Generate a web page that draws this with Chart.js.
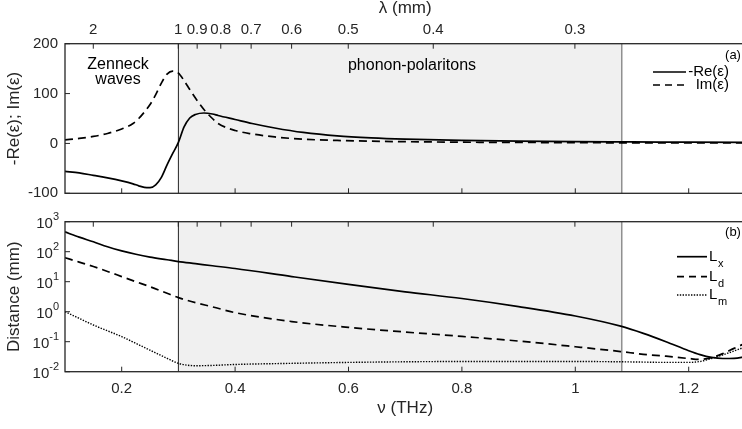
<!DOCTYPE html>
<html>
<head>
<meta charset="utf-8">
<script src="https://cdn.jsdelivr.net/npm/chart.js@4"></script>
<style>
  html, body { margin: 0; padding: 0; background: #fff; overflow: hidden; width: 742px; height: 429px; }
  .panel { position: absolute; left: 0; }
</style>
</head>
<body>
<canvas id="eps-graph" class="panel" style="top:0" width="750" height="215"></canvas>
<canvas id="dist-graph" class="panel" style="top:200px" width="750" height="229"></canvas>
<script>
// Dielectric function + propagation distances vs frequency

const FONT = '"Liberation Sans", Arial, sans-serif';
Chart.defaults.font.family = FONT;
Chart.defaults.color = '#262626';

const C_MM_THZ = 0.29979;        // lambda(mm) = c / nu(THz)
const zoneStart = 0.3;           // phonon-polariton band
const zoneEnd = 1.082;

const nuTicks = [0.2, 0.4, 0.6, 0.8, 1, 1.2];
const lambdaTicks = [2, 1, 0.9, 0.8, 0.7, 0.6, 0.5, 0.4, 0.3];
const epsTicks = [-100, 0, 100, 200];
const distExponents = [-2, -1, 0, 1, 2, 3];

// panel (a)
const nuTop = [0.1, 0.125, 0.15, 0.175, 0.2, 0.22, 0.23, 0.24, 0.25, 0.26, 0.27, 0.28, 0.29, 0.3, 0.31, 0.32, 0.33, 0.345, 0.36, 0.37, 0.4, 0.43, 0.47, 0.52, 0.58, 0.64, 0.7, 0.8, 0.9, 1.0, 1.1, 1.2, 1.3];
const negReEps = [-56, -59, -64, -69, -75, -81, -85, -88, -88.5, -83, -68, -43, -20, 2, 33, 51, 58, 61, 59, 56, 48, 40, 31, 22, 15, 11, 8.5, 6, 4.5, 3.5, 3, 2.5, 2];
const imEps = [7, 10, 14, 20, 29, 40, 50, 63, 78, 98, 121, 139, 145, 141, 126, 108, 91, 68, 50, 40, 26, 19, 13, 8.5, 6, 4.5, 3.5, 2.5, 2, 1.5, 1.2, 1, 0.9];

// panel (b), mm
const nuBot = [0.1, 0.125, 0.15, 0.175, 0.2, 0.225, 0.25, 0.28, 0.3, 0.33, 0.36, 0.4, 0.5, 0.6, 0.7, 0.8, 0.9, 1.0, 1.08, 1.12, 1.16, 1.2, 1.22, 1.24, 1.26, 1.28, 1.3];
const distLx = [457, 305, 214, 146, 107, 82, 66, 54, 47, 40, 34, 27.5, 14.8, 8.1, 4.6, 2.75, 1.48, 0.72, 0.33, 0.19, 0.1, 0.05, 0.037, 0.03, 0.0275, 0.028, 0.0316];
const distLd = [63, 45, 32, 22, 14.8, 10, 6.8, 4.1, 2.95, 2.0, 1.45, 0.93, 0.47, 0.3, 0.21, 0.15, 0.105, 0.068, 0.047, 0.038, 0.033, 0.0275, 0.0257, 0.0295, 0.04, 0.06, 0.089];
const distLm = [1.0, 0.6, 0.36, 0.23, 0.148, 0.088, 0.052, 0.028, 0.019, 0.0158, 0.0162, 0.0174, 0.019, 0.0204, 0.0214, 0.0219, 0.0219, 0.0219, 0.0214, 0.0209, 0.0204, 0.0204, 0.0219, 0.0275, 0.0363, 0.049, 0.0676];

const toPoints = (xs, ys) => xs.map((v, i) => ({ x: v, y: ys[i] }));

const line = (ctx, x0, y0, x1, y1) => {
    ctx.beginPath();
    ctx.moveTo(x0, y0);
    ctx.lineTo(x1, y1);
    ctx.stroke();
};

const legendLine = (ctx, x0, x1, y, dash, width) => {
    ctx.save();
    ctx.strokeStyle = '#000';
    ctx.lineWidth = width;
    ctx.setLineDash(dash);
    line(ctx, x0, y, x1, y);
    ctx.restore();
};

// shading, band edges, box and inward ticks
const panelFrame = {
    id: 'panelFrame',
    beforeDatasetsDraw(chart) {
        const { ctx, chartArea: a, scales: { x } } = chart;
        const x0 = x.getPixelForValue(zoneStart);
        const x1 = x.getPixelForValue(zoneEnd);
        ctx.save();
        ctx.fillStyle = '#f0f0f0';
        ctx.fillRect(x0, a.top, x1 - x0, a.bottom - a.top);
        ctx.strokeStyle = '#262626';
        ctx.lineWidth = 1;
        line(ctx, x0, a.top, x0, a.bottom);
        ctx.strokeStyle = '#808080';
        ctx.lineWidth = 1.3;
        line(ctx, x1, a.top, x1, a.bottom);
        ctx.restore();
    },
    afterDatasetsDraw(chart) {
        const { ctx, chartArea: a, scales: { x, y } } = chart;
        ctx.save();
        ctx.strokeStyle = '#262626';
        ctx.lineWidth = 1.3;
        ctx.strokeRect(a.left, a.top, a.right - a.left, a.bottom - a.top);
        ctx.lineWidth = 1;
        lambdaTicks.forEach(l => {
            const px = x.getPixelForValue(C_MM_THZ / l);
            line(ctx, px, a.top, px, a.top + 5);
        });
        nuTicks.forEach(v => {
            const px = x.getPixelForValue(v);
            line(ctx, px, a.bottom, px, a.bottom - 5);
        });
        y.ticks.forEach(t => {
            const py = y.getPixelForValue(t.value);
            line(ctx, a.left, py, a.left + 5, py);
        });
        ctx.restore();
    }
};

const epsNotes = {
    id: 'epsNotes',
    afterDraw(chart) {
        const ctx = chart.ctx;
        ctx.save();
        ctx.fillStyle = '#000';
        ctx.textBaseline = 'middle';
        ctx.font = '16px ' + FONT;
        ctx.textAlign = 'center';
        ctx.fillText('Zenneck', 118, 65);
        ctx.fillText('waves', 118, 80);
        ctx.fillText('phonon-polaritons', 412, 66);

        ctx.font = '13px ' + FONT;
        ctx.fillText('(a)', 733, 55);

        legendLine(ctx, 653, 686, 72, [], 1.7);
        legendLine(ctx, 653, 685, 85, [7, 5], 1.7);
        ctx.font = '15px ' + FONT;
        ctx.textAlign = 'right';
        ctx.fillText('-Re(ε)', 729, 72);
        ctx.fillText('Im(ε)', 729, 85);
        ctx.restore();
    }
};

const distNotes = {
    id: 'distNotes',
    afterDraw(chart) {
        const { ctx, scales: { y } } = chart;
        ctx.save();
        ctx.fillStyle = '#262626';
        ctx.textBaseline = 'middle';
        ctx.textAlign = 'left';

        // 10^n tick labels
        distExponents.forEach(e => {
            const py = y.getPixelForValue(Math.pow(10, e));
            const exp = e < 0 ? '-' + Math.abs(e) : String(e);
            ctx.font = '15px ' + FONT;
            const wBase = ctx.measureText('10').width;
            ctx.font = '11px ' + FONT;
            const wExp = ctx.measureText(exp).width;
            const x0 = 59 - wBase - wExp;
            ctx.font = '15px ' + FONT;
            ctx.fillText('10', x0, py + 2);
            ctx.font = '11px ' + FONT;
            ctx.fillText(exp, x0 + wBase, py - 5);
        });

        ctx.fillStyle = '#000';
        ctx.font = '13px ' + FONT;
        ctx.textAlign = 'center';
        ctx.fillText('(b)', 733, 32);

        const items = [
            { sub: 'x', y: 56.7, dash: [], width: 1.7 },
            { sub: 'd', y: 76.7, dash: [7, 5], width: 1.7 },
            { sub: 'm', y: 95, dash: [1.4, 1.4], width: 1.4 }
        ];
        ctx.textAlign = 'left';
        items.forEach(it => {
            legendLine(ctx, 677, 707, it.y, it.dash, it.width);
            ctx.font = '15px ' + FONT;
            ctx.fillText('L', 709, it.y);
            ctx.font = '11px ' + FONT;
            ctx.fillText(it.sub, 718, it.y + 7);
        });
        ctx.restore();
    }
};

const tickFont = { family: FONT, size: 15, lineHeight: 1.2 };
const titleFont = { family: FONT, size: 17, lineHeight: 1 };
const noGrid = { display: false, drawTicks: false };

const displayEpsilonGraph = () => {
    const epsGraph = document.getElementById('eps-graph').getContext('2d');

    new Chart(epsGraph, {
        type: 'line',
        data: {
            datasets: [{
                label: '-Re(ε)',
                data: toPoints(nuTop, negReEps),
                borderColor: '#000',
                borderWidth: 1.7,
                pointRadius: 0,
                cubicInterpolationMode: 'monotone'
            }, {
                label: 'Im(ε)',
                data: toPoints(nuTop, imEps),
                borderColor: '#000',
                borderWidth: 1.7,
                borderDash: [8, 5],
                pointRadius: 0,
                cubicInterpolationMode: 'monotone'
            }]
        },
        options: {
            responsive: false,
            animation: false,
            events: [],
            layout: { padding: { left: 0, right: 4.6, top: 0, bottom: 0 } },
            plugins: { legend: { display: false }, tooltip: { enabled: false } },
            scales: {
                x: {
                    type: 'linear',
                    min: 0.1,
                    max: 1.3,
                    grid: noGrid,
                    border: { display: false },
                    ticks: { display: false },
                    afterFit: s => { s.height = 21.7; }
                },
                x2: {
                    type: 'linear',
                    position: 'top',
                    min: 0.1,
                    max: 1.3,
                    grid: noGrid,
                    border: { display: false },
                    afterBuildTicks: s => { s.ticks = lambdaTicks.map(l => ({ value: C_MM_THZ / l })); },
                    ticks: {
                        autoSkip: false,
                        maxRotation: 0,
                        padding: 5,
                        font: tickFont,
                        callback: (v, i) => String(lambdaTicks[i])
                    },
                    title: { display: true, text: 'λ (mm)', padding: { top: 0, bottom: 0 }, font: titleFont },
                    afterFit: s => { s.height = 43.7; }
                },
                y: {
                    min: -100,
                    max: 200,
                    grid: noGrid,
                    border: { display: false },
                    afterBuildTicks: s => { s.ticks = epsTicks.map(v => ({ value: v })); },
                    ticks: { padding: 7, font: tickFont },
                    title: { display: true, text: '-Re(ε); Im(ε)', padding: { top: 6, bottom: 0 }, font: titleFont },
                    afterFit: s => { s.width = 65; }
                }
            }
        },
        plugins: [panelFrame, epsNotes]
    });
};

const displayDistanceGraph = () => {
    const distGraph = document.getElementById('dist-graph').getContext('2d');

    new Chart(distGraph, {
        type: 'line',
        data: {
            datasets: [{
                label: 'Lx',
                data: toPoints(nuBot, distLx),
                borderColor: '#000',
                borderWidth: 1.7,
                pointRadius: 0,
                cubicInterpolationMode: 'monotone'
            }, {
                label: 'Ld',
                data: toPoints(nuBot, distLd),
                borderColor: '#000',
                borderWidth: 1.7,
                borderDash: [8, 5],
                pointRadius: 0,
                cubicInterpolationMode: 'monotone'
            }, {
                label: 'Lm',
                data: toPoints(nuBot, distLm),
                borderColor: '#000',
                borderWidth: 1.4,
                borderDash: [1.4, 1.4],
                pointRadius: 0,
                cubicInterpolationMode: 'monotone'
            }]
        },
        options: {
            responsive: false,
            animation: false,
            events: [],
            layout: { padding: { left: 0, right: 4.6, top: 21.7, bottom: 0 } },
            plugins: { legend: { display: false }, tooltip: { enabled: false } },
            scales: {
                x: {
                    type: 'linear',
                    min: 0.1,
                    max: 1.3,
                    grid: noGrid,
                    border: { display: false },
                    afterBuildTicks: s => { s.ticks = nuTicks.map(v => ({ value: v })); },
                    ticks: {
                        autoSkip: false,
                        maxRotation: 0,
                        padding: 8,
                        font: tickFont,
                        callback: v => String(Math.round(v * 10) / 10)
                    },
                    title: { display: true, text: 'ν (THz)', padding: { top: 0, bottom: 12 }, font: titleFont },
                    afterFit: s => { s.height = 57.3; }
                },
                y: {
                    type: 'logarithmic',
                    min: 0.01,
                    max: 1000,
                    grid: noGrid,
                    border: { display: false },
                    afterBuildTicks: s => { s.ticks = distExponents.map(e => ({ value: Math.pow(10, e) })); },
                    ticks: { display: false },
                    title: { display: true, text: 'Distance (mm)', padding: { top: 6, bottom: 0 }, font: titleFont },
                    afterFit: s => { s.width = 65; }
                }
            }
        },
        plugins: [panelFrame, distNotes]
    });
};

displayEpsilonGraph();
displayDistanceGraph();
</script>
</body>
</html>
